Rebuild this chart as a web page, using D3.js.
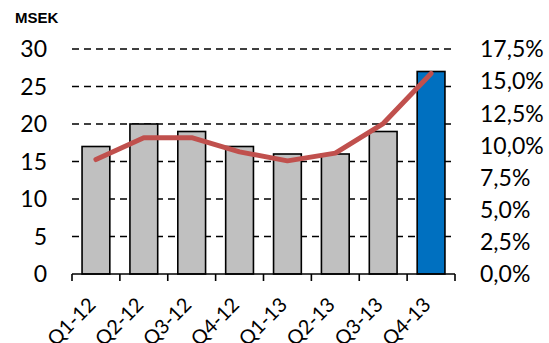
<!DOCTYPE html>
<html>
<head>
<meta charset="utf-8">
<script src="https://cdn.jsdelivr.net/npm/d3@7"></script>
<style>
  html, body { margin: 0; padding: 0; background: #fff; }
  svg { display: block; }
</style>
</head>
<body>
<svg id="chart" width="549" height="343"></svg>
<script>
// Quarterly revenue (MSEK, bars) and margin (%, line)
const quarters = ["Q1-12", "Q2-12", "Q3-12", "Q4-12", "Q1-13", "Q2-13", "Q3-13", "Q4-13"];
const revenue = [17, 20, 19, 17, 16, 16, 19, 27];
const margin = [8.9, 10.6, 10.6, 9.5, 8.8, 9.4, 11.7, 15.6];
const leftTicks = [0, 5, 10, 15, 20, 25, 30];
const rightTicks = [0, 2.5, 5, 7.5, 10, 12.5, 15, 17.5];

const svg = d3.select("#chart");
const plot = { left: 72, right: 455, top: 49, bottom: 274 };

const x = d3.scaleBand().domain(quarters).range([plot.left, plot.right]).paddingInner(0.42).paddingOuter(0.21);
const yL = d3.scaleLinear().domain([0, 30]).range([plot.bottom, plot.top]);
const yR = d3.scaleLinear().domain([0, 17.5]).range([plot.bottom, plot.top]);

const font = "Lato, 'Open Sans', sans-serif";

// dashed gridlines
svg.append("g")
  .selectAll("line")
  .data(leftTicks.filter(d => d > 0))
  .join("line")
  .attr("x1", plot.left).attr("x2", plot.right)
  .attr("y1", d => yL(d)).attr("y2", d => yL(d))
  .attr("stroke", "#000").attr("stroke-width", 1.6)
  .attr("stroke-dasharray", "7,5");

// bars
svg.append("g")
  .selectAll("rect")
  .data(quarters.map((q, i) => ({ q, v: revenue[i], last: i === quarters.length - 1 })))
  .join("rect")
  .attr("x", d => x(d.q))
  .attr("width", x.bandwidth())
  .attr("y", d => yL(d.v))
  .attr("height", d => yL(0) - yL(d.v))
  .attr("fill", d => d.last ? "#0070C0" : "#C0C0C0")
  .attr("stroke", "#000").attr("stroke-width", 1.6);

// bottom axis with category separators
const axisG = svg.append("g");
axisG.append("line")
  .attr("x1", plot.left).attr("x2", plot.right)
  .attr("y1", plot.bottom).attr("y2", plot.bottom)
  .attr("stroke", "#000").attr("stroke-width", 1.6);
const step = x.step();
axisG.selectAll("line.tick")
  .data(d3.range(quarters.length + 1))
  .join("line").attr("class", "tick")
  .attr("x1", i => plot.left + i * step).attr("x2", i => plot.left + i * step)
  .attr("y1", plot.bottom).attr("y2", plot.bottom + 7)
  .attr("stroke", "#000").attr("stroke-width", 1.6);

// rotated category labels
axisG.selectAll("text")
  .data(quarters)
  .join("text")
  .attr("transform", d => `translate(${x(d) + x.bandwidth() / 2 + 1},${plot.bottom + 32}) rotate(-45)`)
  .attr("text-anchor", "end")
  .attr("font-family", font)
  .attr("font-size", 20)
  .attr("fill", "#000")
  .text(d => d);

// left axis labels
svg.append("g")
  .selectAll("text")
  .data(leftTicks)
  .join("text")
  .attr("x", 47)
  .attr("y", d => yL(d))
  .attr("dy", "0.36em")
  .attr("text-anchor", "end")
  .attr("font-family", font)
  .attr("font-size", 23)
  .attr("fill", "#000")
  .text(d => d);

// right axis labels
const pct = v => v.toFixed(1).replace(".", ",") + "%";
svg.append("g")
  .selectAll("text")
  .data(rightTicks)
  .join("text")
  .attr("x", 480)
  .attr("y", d => yR(d))
  .attr("dy", "0.36em")
  .attr("text-anchor", "start")
  .attr("font-family", font)
  .attr("font-size", 23)
  .attr("fill", "#000")
  .text(d => pct(d));

// margin line
const line = d3.line()
  .x((d, i) => x(quarters[i]) + x.bandwidth() / 2)
  .y(d => yR(d));
svg.append("path")
  .datum(margin)
  .attr("d", line)
  .attr("fill", "none")
  .attr("stroke", "#C0504D")
  .attr("stroke-width", 5)
  .attr("stroke-linecap", "round")
  .attr("stroke-linejoin", "round");

// unit label
svg.append("text")
  .attr("x", 15).attr("y", 23)
  .attr("font-family", "'Liberation Sans', Arial, sans-serif")
  .attr("font-weight", "bold")
  .attr("font-size", 15)
  .attr("fill", "#000")
  .text("MSEK");
</script>
</body>
</html>
